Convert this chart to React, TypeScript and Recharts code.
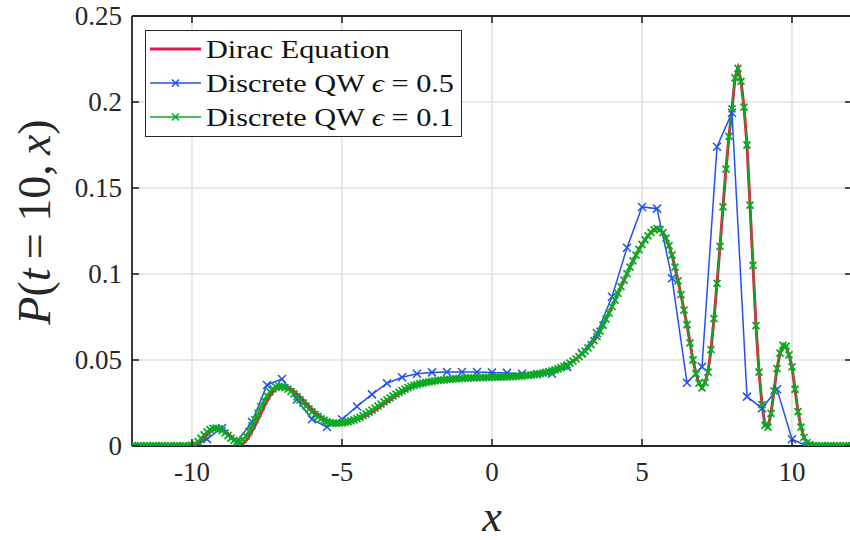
import React from 'react';
import { LineChart, Line, XAxis, YAxis, CartesianGrid, Legend, ReferenceLine } from 'recharts';

// x grid of the dense series (Dirac equation and QW eps = 0.1): -12 .. 12, step 0.1
const DENSE_X_START = -12;
const DENSE_X_STEP = 0.1;
// x grid of the coarse series (QW eps = 0.5): -12 .. 12, step 0.5
const COARSE_X_START = -12;
const COARSE_X_STEP = 0.5;

// Dirac equation, P(t=10,x); one row = 10 samples, row start noted
const diracValues: number[] = [
  /* -12 */ 0, 0, 0, 0, 0, 0, 0, 0, 0, 0,
  /* -11 */ 0, 0, 0, 0, 0, 0, 0, 0, 0, 0,
  /* -10 */ 0, 0.0003, 0.0010, 0.0025, 0.0045, 0.0065, 0.0082, 0.0095, 0.0102, 0.0104,
  /* -9 */ 0.0100, 0.0088, 0.0072, 0.0055, 0.0038, 0.0024, 0.0014, 0.0015, 0.0030, 0.0055,
  /* -8 */ 0.0085, 0.0118, 0.0153, 0.0190, 0.0228, 0.0262, 0.0292, 0.0315, 0.0332, 0.0342,
  /* -7 */ 0.0346, 0.0345, 0.0340, 0.0331, 0.0318, 0.0303, 0.0286, 0.0268, 0.0250, 0.0232,
  /* -6 */ 0.0214, 0.0198, 0.0183, 0.0170, 0.0158, 0.0149, 0.0141, 0.0136, 0.0133, 0.0132,
  /* -5 */ 0.0133, 0.0134, 0.0137, 0.0141, 0.0146, 0.0152, 0.0159, 0.0167, 0.0176, 0.0186,
  /* -4 */ 0.0197, 0.0208, 0.0220, 0.0232, 0.0244, 0.0256, 0.0268, 0.0280, 0.0291, 0.0302,
  /* -3 */ 0.0312, 0.0322, 0.0331, 0.0339, 0.0346, 0.0352, 0.0357, 0.0362, 0.0366, 0.0370,
  /* -2 */ 0.0374, 0.0377, 0.0380, 0.0382, 0.0384, 0.0386, 0.0388, 0.0389, 0.0391, 0.0392,
  /* -1 */ 0.0393, 0.0394, 0.0395, 0.0396, 0.0396, 0.0397, 0.0398, 0.0398, 0.0399, 0.0399,
  /* 0 */ 0.0400, 0.0400, 0.0401, 0.0401, 0.0402, 0.0402, 0.0403, 0.0404, 0.0405, 0.0406,
  /* 1 */ 0.0407, 0.0409, 0.0411, 0.0413, 0.0415, 0.0418, 0.0421, 0.0424, 0.0428, 0.0432,
  /* 2 */ 0.0437, 0.0442, 0.0448, 0.0455, 0.0463, 0.0472, 0.0482, 0.0493, 0.0506, 0.0520,
  /* 3 */ 0.0535, 0.0552, 0.0570, 0.0590, 0.0612, 0.0636, 0.0668, 0.0702, 0.0737, 0.0773,
  /* 4 */ 0.0810, 0.0848, 0.0887, 0.0926, 0.0964, 0.1002, 0.1040, 0.1076, 0.1110, 0.1142,
  /* 5 */ 0.1172, 0.1198, 0.1222, 0.1242, 0.1258, 0.1264, 0.1258, 0.1240, 0.1208, 0.1165,
  /* 6 */ 0.1110, 0.1040, 0.0960, 0.0880, 0.0790, 0.0705, 0.0600, 0.0500, 0.0420, 0.0365,
  /* 7 */ 0.0338, 0.0370, 0.0430, 0.0560, 0.0740, 0.0946, 0.1160, 0.1390, 0.1610, 0.1800,
  /* 8 */ 0.1960, 0.2140, 0.2198, 0.2120, 0.1970, 0.1750, 0.1400, 0.1050, 0.0700, 0.0430,
  /* 9 */ 0.0240, 0.0120, 0.0110, 0.0190, 0.0320, 0.0450, 0.0540, 0.0585, 0.0580, 0.0530,
  /* 10 */ 0.0460, 0.0330, 0.0200, 0.0110, 0.0050, 0.0020, 0.0008, 0.0002, 0, 0,
  /* 11 */ 0, 0, 0, 0, 0, 0, 0, 0, 0, 0,
  /* 12 */ 0,
];

// Discrete QW, epsilon = 0.1
const qw01Values: number[] = [
  /* -12 */ 0, 0, 0, 0, 0, 0, 0, 0, 0, 0,
  /* -11 */ 0, 0, 0, 0, 0, 0, 0, 0, 0, 0,
  /* -10 */ 0.0003, 0.0010, 0.0025, 0.0045, 0.0065, 0.0082, 0.0095, 0.0102, 0.0104, 0.0100,
  /* -9 */ 0.0090, 0.0076, 0.0060, 0.0045, 0.0033, 0.0026, 0.0027, 0.0038, 0.0058, 0.0085,
  /* -8 */ 0.0118, 0.0153, 0.0190, 0.0228, 0.0262, 0.0292, 0.0315, 0.0332, 0.0342, 0.0346,
  /* -7 */ 0.0345, 0.0340, 0.0331, 0.0318, 0.0303, 0.0286, 0.0268, 0.0250, 0.0232, 0.0214,
  /* -6 */ 0.0198, 0.0183, 0.0170, 0.0158, 0.0149, 0.0141, 0.0136, 0.0133, 0.0132, 0.0133,
  /* -5 */ 0.0134, 0.0137, 0.0141, 0.0146, 0.0152, 0.0159, 0.0167, 0.0176, 0.0186, 0.0197,
  /* -4 */ 0.0208, 0.0220, 0.0232, 0.0244, 0.0256, 0.0268, 0.0280, 0.0291, 0.0302, 0.0312,
  /* -3 */ 0.0322, 0.0331, 0.0339, 0.0346, 0.0352, 0.0357, 0.0362, 0.0366, 0.0370, 0.0373,
  /* -2 */ 0.0376, 0.0379, 0.0381, 0.0383, 0.0385, 0.0387, 0.0388, 0.0390, 0.0391, 0.0392,
  /* -1 */ 0.0393, 0.0394, 0.0395, 0.0396, 0.0396, 0.0397, 0.0398, 0.0398, 0.0399, 0.0399,
  /* 0 */ 0.0400, 0.0400, 0.0401, 0.0401, 0.0402, 0.0402, 0.0403, 0.0404, 0.0405, 0.0406,
  /* 1 */ 0.0407, 0.0409, 0.0411, 0.0413, 0.0415, 0.0418, 0.0421, 0.0424, 0.0428, 0.0432,
  /* 2 */ 0.0437, 0.0442, 0.0448, 0.0455, 0.0463, 0.0472, 0.0482, 0.0493, 0.0506, 0.0520,
  /* 3 */ 0.0535, 0.0552, 0.0570, 0.0590, 0.0612, 0.0636, 0.0668, 0.0702, 0.0737, 0.0773,
  /* 4 */ 0.0810, 0.0848, 0.0887, 0.0926, 0.0964, 0.1002, 0.1040, 0.1076, 0.1110, 0.1142,
  /* 5 */ 0.1172, 0.1198, 0.1222, 0.1242, 0.1258, 0.1264, 0.1258, 0.1240, 0.1208, 0.1165,
  /* 6 */ 0.1110, 0.1040, 0.0960, 0.0880, 0.0790, 0.0705, 0.0600, 0.0500, 0.0420, 0.0365,
  /* 7 */ 0.0338, 0.0370, 0.0430, 0.0560, 0.0740, 0.0946, 0.1160, 0.1390, 0.1610, 0.1800,
  /* 8 */ 0.1960, 0.2140, 0.2195, 0.2120, 0.1970, 0.1750, 0.1400, 0.1050, 0.0700, 0.0430,
  /* 9 */ 0.0240, 0.0120, 0.0110, 0.0190, 0.0320, 0.0450, 0.0540, 0.0585, 0.0580, 0.0530,
  /* 10 */ 0.0460, 0.0330, 0.0200, 0.0110, 0.0050, 0.0020, 0.0008, 0.0002, 0, 0,
  /* 11 */ 0, 0, 0, 0, 0, 0, 0, 0, 0, 0,
  /* 12 */ 0,
];

// Discrete QW, epsilon = 0.5 (x = -12, -11.5, ..., 12)
const qw05Values: number[] = [
  /* -12 */ 0, 0, 0, 0,
  /* -10 */ 0, 0.0040, 0.0105, 0.0025,
  /* -8 */ 0.0140, 0.0355, 0.0390, 0.0270,
  /* -6 */ 0.0155, 0.0110, 0.0155, 0.0230,
  /* -4 */ 0.0300, 0.0365, 0.0400, 0.0420,
  /* -2 */ 0.0428, 0.0430, 0.0430, 0.0430,
  /* 0 */ 0.0427, 0.0425, 0.0420, 0.0418,
  /* 2 */ 0.0420, 0.0460, 0.0540, 0.0655,
  /* 4 */ 0.0868, 0.1153, 0.1390, 0.1380,
  /* 6 */ 0.0975, 0.0368, 0.0460, 0.1740,
  /* 8 */ 0.1938, 0.0287, 0.0219, 0.0330,
  /* 10 */ 0.0039, 0, 0, 0,
  /* 12 */ 0,
];

const xTicks = [-10, -5, 0, 5, 10];
const xTickLabels = ['-10', '-5', '0', '5', '10'];
const yTicks = [0, 0.05, 0.1, 0.15, 0.2, 0.25];
const yTickLabels = ['0', '0.05', '0.1', '0.15', '0.2', '0.25'];

const seriesNames = ['Dirac Equation', 'Discrete QW ϵ = 0.5', 'Discrete QW ϵ = 0.1'];

const RED = '#e8174d';
const BLUE = '#2350f0';
const GREEN = '#0aaa22';
const AXIS = '#262626';
const FONT = '"Liberation Serif", "Times New Roman", serif';

const toRows = (start: number, step: number, vals: number[]) =>
  vals.map((v, i) => ({ x: Math.round((start + i * step) * 100) / 100, y: v }));

const diracData = toRows(DENSE_X_START, DENSE_X_STEP, diracValues);
const qw01Data = toRows(DENSE_X_START, DENSE_X_STEP, qw01Values);
const qw05Data = toRows(COARSE_X_START, COARSE_X_STEP, qw05Values);

const W = 852;
const H = 540;
const TOP = 16;
const BOTTOM_AXIS_H = 94;
const LEFT_AXIS_W = 132;
const PLOT_BOTTOM = H - BOTTOM_AXIS_H;
const PLOT_RIGHT = W;

const makeCross = (color: string, s: number, w: number) => (props: any) => {
  const { cx, cy, index } = props;
  if (cx == null || cy == null) return <g key={`e-${index}`} />;
  return (
    <path
      key={`m-${color}-${index}`}
      d={`M${cx - s},${cy - s}L${cx + s},${cy + s}M${cx - s},${cy + s}L${cx + s},${cy - s}`}
      stroke={color}
      strokeWidth={w}
      fill="none"
    />
  );
};

const XTick = (props: any) => {
  const { payload, index } = props;
  const cx = payload.coordinate;
  const label = xTickLabels[xTicks.indexOf(payload.value)] ?? String(payload.value);
  return (
    <g key={`xt-${index}`}>
      <line x1={cx} x2={cx} y1={PLOT_BOTTOM} y2={PLOT_BOTTOM - 7} stroke={AXIS} strokeWidth={1.6} />
      <line x1={cx} x2={cx} y1={TOP} y2={TOP + 7} stroke={AXIS} strokeWidth={1.6} />
      <text x={cx} y={PLOT_BOTTOM + 26} textAnchor="middle" dominantBaseline="central" fontSize={27} fontFamily={FONT} fill={AXIS}>
        {label}
      </text>
    </g>
  );
};

const YTick = (props: any) => {
  const { payload, index } = props;
  const cy = payload.coordinate;
  const label = yTickLabels[yTicks.indexOf(payload.value)] ?? String(payload.value);
  return (
    <g key={`yt-${index}`}>
      <line x1={LEFT_AXIS_W} x2={LEFT_AXIS_W + 7} y1={cy} y2={cy} stroke={AXIS} strokeWidth={1.6} />
      <line x1={PLOT_RIGHT - 7} x2={PLOT_RIGHT} y1={cy} y2={cy} stroke={AXIS} strokeWidth={1.6} />
      <text x={LEFT_AXIS_W - 10} y={cy} textAnchor="end" dominantBaseline="central" fontSize={27} fontFamily={FONT} fill={AXIS}>
        {label}
      </text>
    </g>
  );
};

const YLabel = () => (
  <text
    transform={`translate(34, 222) rotate(-90)`}
    textAnchor="middle"
    dominantBaseline="central"
    fontSize={46}
    fontFamily={FONT}
    fill={AXIS}
  >
    <tspan fontStyle="italic">P</tspan>
    <tspan>(</tspan>
    <tspan fontStyle="italic">t</tspan>
    <tspan>{'\u2009= 10,\u2009'}</tspan>
    <tspan fontStyle="italic">x</tspan>
    <tspan>)</tspan>
  </text>
);

const XLabel = () => (
  <text x={492} y={531} textAnchor="middle" fontSize={44} fontFamily={FONT} fontStyle="italic" fill={AXIS}>
    x
  </text>
);

const legendColors = [RED, BLUE, GREEN];
const legendTextLen = [184, 248, 248];

const LegendBox = () => (
  <div style={{ width: 317, height: 107, boxSizing: 'border-box', border: `1.6px solid ${AXIS}`, background: '#fff' }}>
    <svg width={314} height={104} style={{ display: 'block' }}>
      {seriesNames.map((name, i) => {
        const cy = 18 + i * 34;
        return (
          <g key={name}>
            <line x1={4} x2={55} y1={cy} y2={cy} stroke={legendColors[i]} strokeWidth={i === 0 ? 3 : 1.5} />
            {i > 0 && (
              <path d={`M${29.5 - 3.5},${cy - 3.5}L${29.5 + 3.5},${cy + 3.5}M${29.5 - 3.5},${cy + 3.5}L${29.5 + 3.5},${cy - 3.5}`} stroke={legendColors[i]} strokeWidth={1.5} />
            )}
            <text x={60} y={cy} dominantBaseline="central" fontSize={26} fontFamily={FONT} fill="#111" textLength={legendTextLen[i]} lengthAdjust="spacingAndGlyphs">
              {i === 0 ? (
                name
              ) : (
                <>
                  <tspan>{'Discrete QW '}</tspan>
                  <tspan fontStyle="italic">ϵ</tspan>
                  <tspan>{i === 1 ? ' = 0.5' : ' = 0.1'}</tspan>
                </>
              )}
            </text>
          </g>
        );
      })}
    </svg>
  </div>
);

export default function App() {
  return (
    <div style={{ position: 'absolute', left: 0, top: 0, width: 850, height: 540, overflow: 'hidden', background: '#fff' }}>
      <LineChart width={W} height={H} margin={{ top: TOP, right: 0, bottom: 0, left: 0 }}>
        <CartesianGrid stroke="#e2e2e2" strokeWidth={1.6} />
        <XAxis
          dataKey="x"
          type="number"
          domain={[-12, 12]}
          ticks={xTicks}
          allowDataOverflow
          height={BOTTOM_AXIS_H}
          tickLine={false}
          tickSize={0}
          axisLine={{ stroke: AXIS, strokeWidth: 1.8 }}
          tick={<XTick />}
          interval={0}
          label={{ content: () => <XLabel /> }}
        />
        <YAxis
          type="number"
          domain={[0, 0.25]}
          ticks={yTicks}
          allowDataOverflow
          width={LEFT_AXIS_W}
          tickLine={false}
          tickSize={0}
          axisLine={{ stroke: AXIS, strokeWidth: 1.8 }}
          tick={<YTick />}
          interval={0}
          label={{ content: () => <YLabel /> }}
        />
        <ReferenceLine y={0.25} stroke={AXIS} strokeWidth={1.8} ifOverflow="visible" />
        <ReferenceLine x={12} stroke={AXIS} strokeWidth={1.8} ifOverflow="visible" />
        <Legend
          layout="vertical"
          align="center"
          verticalAlign="middle"
          wrapperStyle={{ left: 145, top: 30, width: 317, height: 107 }}
          content={() => <LegendBox />}
        />
        <Line
          data={diracData}
          dataKey="y"
          name={seriesNames[0]}
          stroke={RED}
          strokeWidth={3}
          dot={false}
          isAnimationActive={false}
          type="linear"
        />
        <Line
          data={qw05Data}
          dataKey="y"
          name={seriesNames[1]}
          stroke={BLUE}
          strokeWidth={1.5}
          dot={makeCross(BLUE, 4, 1.5)}
          isAnimationActive={false}
          type="linear"
        />
        <Line
          data={qw01Data}
          dataKey="y"
          name={seriesNames[2]}
          stroke={GREEN}
          strokeWidth={1.5}
          dot={makeCross(GREEN, 3.5, 1.8)}
          isAnimationActive={false}
          type="linear"
        />
      </LineChart>
    </div>
  );
}
